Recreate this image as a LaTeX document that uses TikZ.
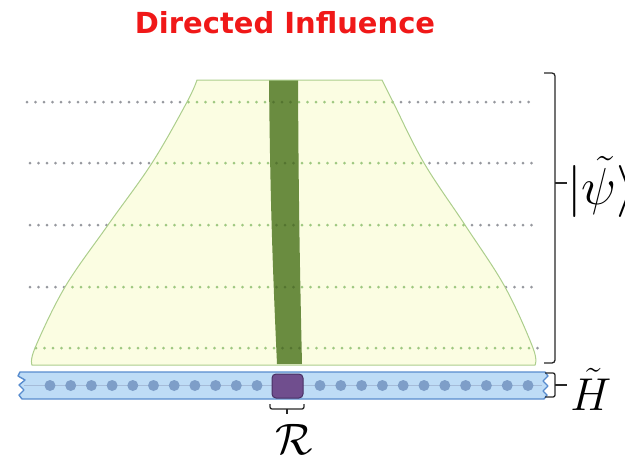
\documentclass[tikz,border=0pt]{standalone}
\usepackage{fontspec}
\newfontfamily\titlefont{DejaVu Sans}
\definecolor{titlered}{RGB}{240,24,24}
\definecolor{trapfill}{RGB}{251,253,226}
\definecolor{trapline}{RGB}{172,206,140}
\definecolor{bandgreen}{RGB}{106,140,64}
\definecolor{banddot}{RGB}{84,116,48}
\definecolor{dotgray}{RGB}{150,152,158}
\definecolor{dotgreen}{RGB}{158,200,128}
\definecolor{stripfill}{RGB}{190,220,246}
\definecolor{stripline}{RGB}{88,140,206}
\definecolor{sitedot}{RGB}{126,158,200}
\definecolor{purplefill}{RGB}{112,78,142}
\definecolor{purpleline}{RGB}{72,48,100}
\definecolor{bracecol}{RGB}{40,40,40}
\tikzset{
  bracestyle/.style={draw=bracecol, line width=1.3pt, rounded corners=3pt},
  sitestyle/.style={circle, fill=sitedot, minimum size=11pt, inner sep=0pt},
  regionbox/.style={draw=purpleline, fill=purplefill, line width=1pt, rounded corners=4pt,
    minimum width=31pt, minimum height=24pt, inner sep=0pt},
  mathlabel/.style={inner sep=0pt, text=black, font=\Huge}
}
% dotted row of small discs: #1 colour, #2 y, #3 first x, #4 last x
\newcommand\dotrowdraw[4]{%
  \pgfmathsetmacro\dsecond{#3+8.5}%
  \pgfmathsetmacro\dlast{#4+0.5}%
  \foreach \dx in {#3,\dsecond,...,\dlast} \fill[#1] (\dx,#2) circle[radius=1.5pt];%
}
\begin{document}
\begin{tikzpicture}[x=1pt,y=-1pt]
\useasboundingbox (0,0) rectangle (625,461);
% title
\node[text=titlered, font=\titlefont\bfseries\fontsize{29}{33}\selectfont] (title) at (285,23) {Directed Influence};
% gray dotted rows
\foreach \yy/\xa/\xb in {102/27/533, 163/30/533, 225/30/533, 287/30/533, 348/36/540}
  {\dotrowdraw{dotgray}{\yy}{\xa}{\xb}}
% trapezoid
\def\trappath{plot[smooth, tension=0.6] coordinates {(32,365)(35,348)(65,287)(108,225)(152,163)(187,102)(197,80)}
  -- plot[smooth, tension=0.6] coordinates {(382,80)(393,102)(424,163)(465,225)(505,287)(533,348)(535,365)} -- cycle}
\path[fill=trapfill] \trappath;
% green dots inside
\foreach \yy/\xa/\xb in {102/188.5/392.5, 163/157.5/421, 225/115/463.5, 287/72.5/497.5, 348/36/529}
  {\dotrowdraw{dotgreen}{\yy}{\xa}{\xb}}
% dark band
\fill[bandgreen] (269,80) to[bend right=1] (277,364) -- (302,364) to[bend left=0.5] (298,80) -- cycle;
\foreach \yy/\xa/\xb in {102/273.5/290.5, 163/276.5/293.5, 225/276.5/293.5, 287/276.5/293.5, 348/282.5/299.5}
  {\dotrowdraw{banddot}{\yy}{\xa}{\xb}}
\path[draw=trapline, line width=1pt] \trappath;
% lattice strip
\path[fill=stripfill, draw=stripline, line width=1.4pt, line join=round]
  (20,372) -- (545,372) -- (548,376) -- (543,381) -- (548,386) -- (543,391) -- (547,395) -- (544,399)
  -- (22,399) -- (19,395) -- (24,390) -- (19,385) -- (25,380) -- (18,376) -- cycle;
\draw[sitedot!70, line width=1pt] (24,385.5) -- (542,385.5);
\foreach \i in {0,...,10} {
  \node[sitestyle] (l\i) at ({50+20.7*\i},385.5) {};
  \node[sitestyle] (r\i) at ({320+20.8*\i},385.5) {};
}
\node[regionbox] (region) at (287.5,386) {};
% R brace
\coordinate (rb1) at (270,404);
\coordinate (rb2) at (304,404);
\draw[bracestyle, rounded corners=2pt] (rb1) -- (270,409) -- (304,409) -- (rb2);
\draw[bracestyle] (287,409) -- (287,414);
\node[mathlabel, anchor=base, scale=1.77] (Rlabel) at (294,454) {$\mathcal{R}$};
% psi brace
\coordinate (pb1) at (544,73);
\coordinate (pb2) at (544,363);
\draw[bracestyle] (pb1) -- (555,73) -- (555,363) -- (pb2);
\draw[bracestyle] (555,183) -- (567,183);
\node[mathlabel, anchor=base west, scale=2.09] (psilabel) at (567,204) {$|\tilde\psi\rangle$};
% H brace
\coordinate (hb1) at (545,373);
\coordinate (hb2) at (545,397);
\draw[bracestyle, rounded corners=2pt] (hb1) -- (555,373) -- (555,397) -- (hb2);
\draw[bracestyle] (555,385) -- (567,385);
\node[mathlabel, anchor=base west, scale=1.85] (Hlabel) at (570,410) {$\tilde H$};
\end{tikzpicture}
\end{document}
